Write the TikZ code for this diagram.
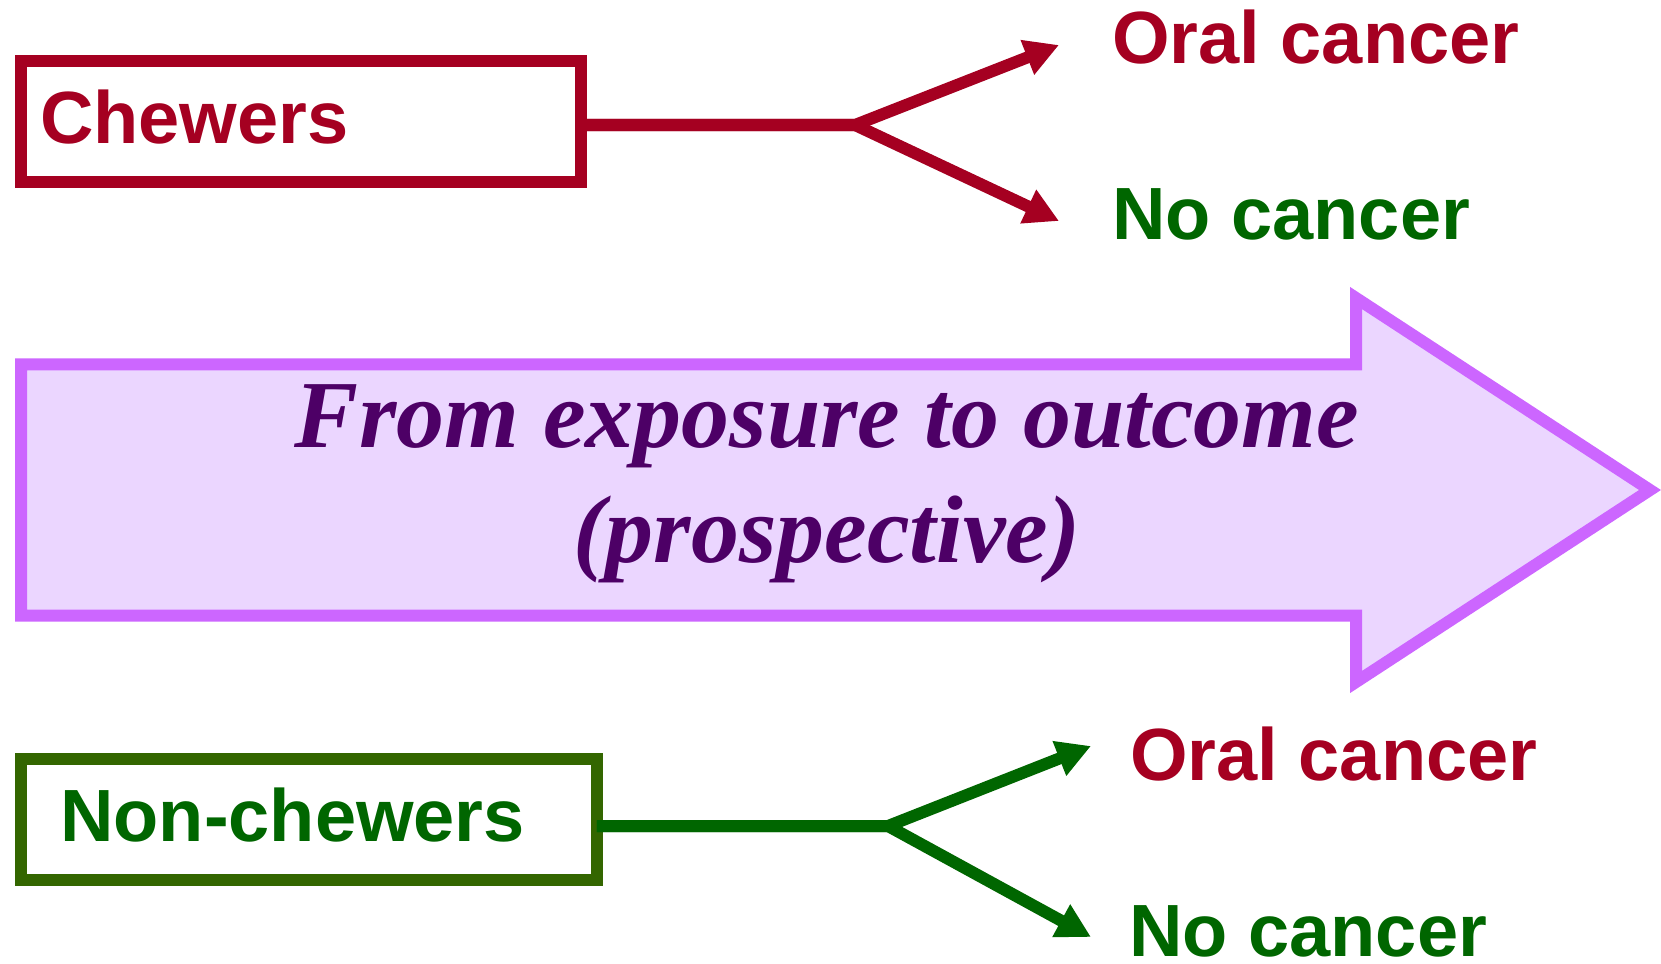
\documentclass[tikz,border=0pt]{standalone}
\usepackage{fontspec}
\setmainfont{Liberation Serif}
\setsansfont{Liberation Sans}
\usetikzlibrary{arrows.meta,positioning}
\definecolor{chewred}{HTML}{A50021}
\definecolor{nonchewgreen}{HTML}{336600}
\definecolor{nocancer}{HTML}{006600}
\definecolor{flowedge}{HTML}{CC66FF}
\definecolor{flowfill}{HTML}{EBD6FF}
\definecolor{flowink}{HTML}{4D0066}
\tikzset{
  >={Triangle[length=34pt,width=35pt]},
  groupbox/.style={draw,line width=12pt,fill=white,outer sep=0pt,minimum height=121pt,align=left,text height=60pt,text depth=16pt,font=\sffamily\bfseries\fontsize{74}{80}\selectfont},
  outcome/.style={anchor=base west,inner sep=0pt,font=\sffamily\bfseries\fontsize{74}{80}\selectfont},
  branch/.style={->,line width=12pt},
  flowarrow/.style={draw=flowedge,fill=flowfill,line width=12pt},
  flowlabel/.style={align=center,text=flowink,inner sep=0pt,font=\rmfamily\bfseries\itshape\fontsize{96}{115}\selectfont},
}

\begin{document}
\begin{tikzpicture}[x=1pt,y=-1pt]
\useasboundingbox (0,0) rectangle (1661,963);

\node[groupbox,draw=chewred,text=chewred,minimum width=559.5pt,inner xsep=19pt,text width=521.5pt] (chew) at (300.75,121.5) {Chewers};
\node[groupbox,draw=nonchewgreen,text=nocancer,minimum width=576pt,inner xsep=39.5pt,text width=497pt] (nonchew) at (308.75,819.7) {Non-chewers};

\node[outcome,text=chewred] (cheworal) at (1112,63.3) {Oral cancer};
\node[outcome,text=nocancer] (chewnone) at (1112,239.3) {No cancer};
\node[outcome,text=chewred] (noncheworal) at (1130,780) {Oral cancer};
\node[outcome,text=nocancer] (nonchewnone) at (1129,956) {No cancer};

\coordinate (chewsplit) at (855,125);
\coordinate (chewtoporal) at (1059,45);
\coordinate (chewtonone) at (1059,221);
\coordinate (nonchewsplit) at (888,826);
\coordinate (nonchewtooral) at (1091,746);
\coordinate (nonchewtonone) at (1091,937);

\draw[branch,chewred] (chewsplit -| chew.east) -- (chewsplit) -- (chewtoporal);
\draw[branch,chewred] (chewsplit -| chew.east) -- (chewsplit) -- (chewtonone);
\draw[branch,nocancer] (nonchewsplit -| nonchew.east) -- (nonchewsplit) -- (nonchewtooral);
\draw[branch,nocancer] (nonchewsplit -| nonchew.east) -- (nonchewsplit) -- (nonchewtonone);

\draw[flowarrow] (21,364.3) -- (1356,364.3) -- (1356,298) -- (1650,490) -- (1356,682) -- (1356,615.7) -- (21,615.7) -- cycle;
\node[flowlabel] (flow) at (827,484) {From exposure to outcome\\(prospective)};

\end{tikzpicture}
\end{document}
